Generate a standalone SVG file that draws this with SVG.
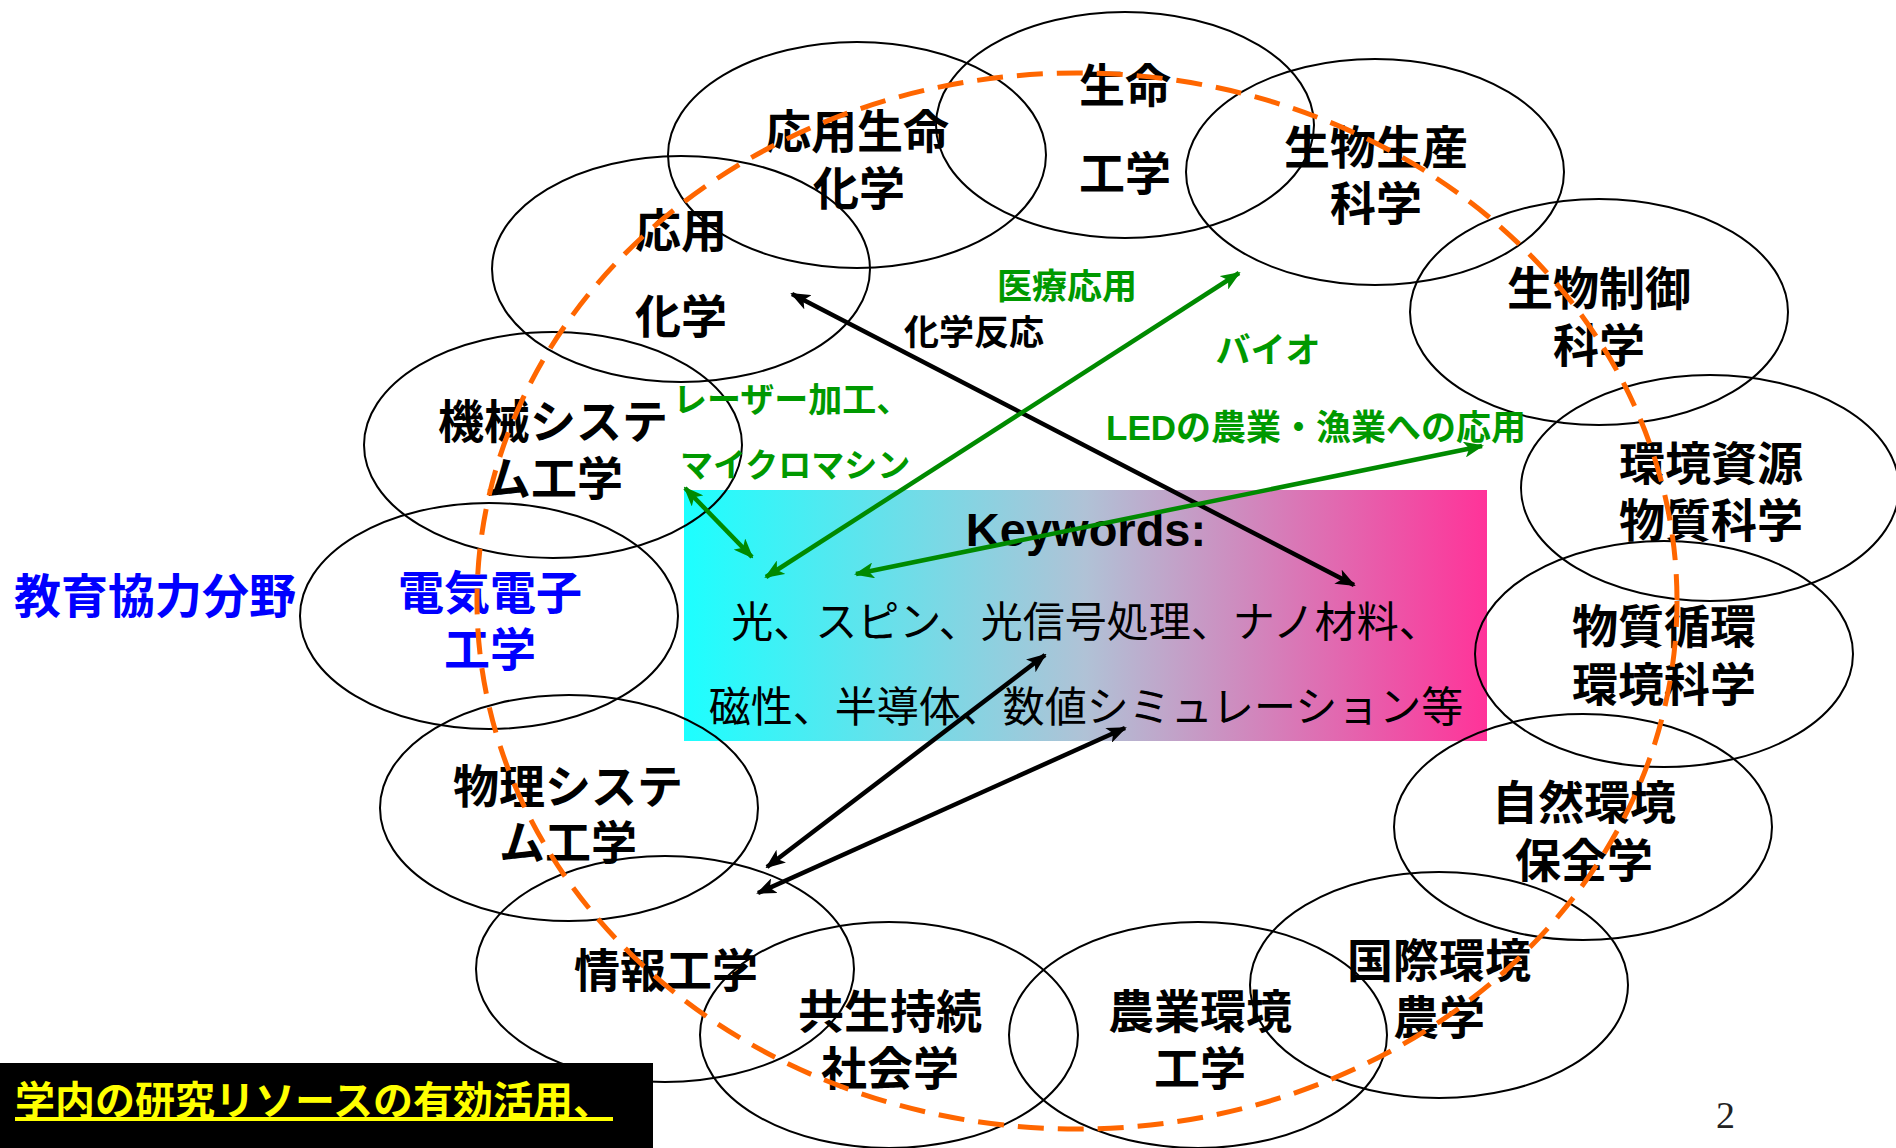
<svg xmlns="http://www.w3.org/2000/svg" width="1896" height="1148" viewBox="0 0 1896 1148">
<defs>
<linearGradient id="kwgrad" x1="0" y1="0" x2="1" y2="0">
<stop offset="0" stop-color="#1CFFFF"/>
<stop offset="0.5" stop-color="#B0C2D6"/>
<stop offset="1" stop-color="#FF3399"/>
</linearGradient>
<marker id="ahB" viewBox="0 0 20 16" refX="18" refY="8" markerWidth="20" markerHeight="16" markerUnits="userSpaceOnUse" orient="auto-start-reverse"><path d="M0,0 L20,8 L0,16 L5,8 z" fill="#000"/></marker>
<marker id="ahG" viewBox="0 0 20 16" refX="18" refY="8" markerWidth="20" markerHeight="16" markerUnits="userSpaceOnUse" orient="auto-start-reverse"><path d="M0,0 L20,8 L0,16 L5,8 z" fill="#008A00"/></marker>
<style>
.node{fill:none;stroke:#000;stroke-width:2}
.lbl{font-family:"Noto Sans CJK JP","Noto Sans CJK SC",sans-serif;font-weight:bold;font-size:46px;fill:#000;text-anchor:middle}
.blue{fill:#0000FF}
.kw{font-family:"Noto Sans CJK JP","Noto Sans CJK SC",sans-serif;font-size:42px;fill:#000;text-anchor:middle}
.kwt{font-family:"Liberation Sans","Noto Sans CJK JP",sans-serif;font-weight:bold;font-size:47px;fill:#000;text-anchor:middle}
.gl{font-family:"Liberation Sans","Noto Sans CJK JP",sans-serif;font-weight:bold;font-size:35px;fill:#009900}
.bl{font-family:"Noto Sans CJK JP",sans-serif;font-weight:bold;font-size:35px;fill:#000}
.blk{stroke:#000;stroke-width:4.5;fill:none;marker-start:url(#ahB);marker-end:url(#ahB)}
.grn{stroke:#008A00;stroke-width:4.5;fill:none;marker-start:url(#ahG);marker-end:url(#ahG)}
</style>
</defs>
<rect width="1896" height="1148" fill="#fff"/>

<g id="keywords">
<rect x="684" y="490" width="803" height="251" fill="url(#kwgrad)"/>
<text class="kwt" x="1086" y="546">Keywords:</text>
<text class="kw" x="1086" y="637">光、スピン、光信号処理、ナノ材料、</text>
<text class="kw" x="1086" y="722">磁性、半導体、数値シミュレーション等</text>
</g>

<g id="node-oyoseimei"><ellipse class="node" cx="857" cy="155" rx="189" ry="113"/>
<text class="lbl" x="857" y="148">応用生命</text><text class="lbl" x="859" y="205">化学</text></g>
<g id="node-seimei"><ellipse class="node" cx="1125" cy="125" rx="189" ry="113"/>
<text class="lbl" x="1125" y="102">生命</text><text class="lbl" x="1125" y="190">工学</text></g>
<g id="node-seibutsuseisan"><ellipse class="node" cx="1375" cy="172" rx="189" ry="113"/>
<text class="lbl" x="1376" y="164">生物生産</text><text class="lbl" x="1376" y="220">科学</text></g>
<g id="node-oyokagaku"><ellipse class="node" cx="681" cy="269" rx="189" ry="113"/>
<text class="lbl" x="681" y="247">応用</text><text class="lbl" x="681" y="333">化学</text></g>
<g id="node-seibutsuseigyo"><ellipse class="node" cx="1599" cy="312" rx="189" ry="113"/>
<text class="lbl" x="1599" y="305">生物制御</text><text class="lbl" x="1599" y="362">科学</text></g>
<g id="node-kikai"><ellipse class="node" cx="553" cy="445" rx="189" ry="113"/>
<text class="lbl" x="553" y="438">機械システ</text><text class="lbl" x="554" y="495">ム工学</text></g>
<g id="node-kankyoshigen"><ellipse class="node" cx="1710" cy="488" rx="189" ry="113"/>
<text class="lbl" x="1711" y="480">環境資源</text><text class="lbl" x="1711" y="537">物質科学</text></g>
<g id="node-denki"><ellipse class="node" cx="489" cy="616" rx="189" ry="113"/>
<text class="lbl blue" x="490" y="609">電気電子</text><text class="lbl blue" x="490" y="666">工学</text></g>
<g id="node-busshitsu"><ellipse class="node" cx="1664" cy="654" rx="189" ry="113"/>
<text class="lbl" x="1664" y="643">物質循環</text><text class="lbl" x="1664" y="701">環境科学</text></g>
<g id="node-butsuri"><ellipse class="node" cx="569" cy="808" rx="189" ry="113"/>
<text class="lbl" x="568" y="803">物理システ</text><text class="lbl" x="568" y="859">ム工学</text></g>
<g id="node-shizen"><ellipse class="node" cx="1583" cy="827" rx="189" ry="113"/>
<text class="lbl" x="1584" y="819">自然環境</text><text class="lbl" x="1584" y="877">保全学</text></g>
<g id="node-joho"><ellipse class="node" cx="665" cy="969" rx="189" ry="113"/>
<text class="lbl" x="666" y="987">情報工学</text></g>
<g id="node-kokusai"><ellipse class="node" cx="1439" cy="985" rx="189" ry="113"/>
<text class="lbl" x="1439" y="977">国際環境</text><text class="lbl" x="1439" y="1034">農学</text></g>
<g id="node-kyosei"><ellipse class="node" cx="889" cy="1035" rx="189" ry="113"/>
<text class="lbl" x="890" y="1028">共生持続</text><text class="lbl" x="890" y="1085">社会学</text></g>
<g id="node-nogyo"><ellipse class="node" cx="1198" cy="1035" rx="189" ry="113"/>
<text class="lbl" x="1200" y="1028">農業環境</text><text class="lbl" x="1200" y="1085">工学</text></g>

<g id="boundary">
<ellipse cx="1077" cy="601" rx="600" ry="528" fill="none" stroke="#FF6600" stroke-width="5" stroke-dasharray="26 14"/>
</g>

<g id="labels">
<text class="lbl blue" x="155" y="613" style="font-size:47px">教育協力分野</text>
<text class="gl" x="1067" y="299" text-anchor="middle">医療応用</text>
<text class="bl" x="974" y="345" text-anchor="middle">化学反応</text>
<text class="gl" x="1268" y="363" text-anchor="middle">バイオ</text>
<text class="gl" x="1106" y="440">LEDの農業・漁業への応用</text>
<text class="gl" x="673" y="412" style="font-size:34px">レーザー加工、</text>
<text class="gl" x="680" y="477" style="font-size:33px">マイクロマシン</text>
</g>

<g id="connectors">
<line class="blk" x1="792" y1="294" x2="1354" y2="585"/>
<line class="blk" x1="1045" y1="655" x2="767" y2="867"/>
<line class="blk" x1="1125" y1="728" x2="758" y2="893"/>
<line class="grn" x1="766" y1="577" x2="1239" y2="273"/>
<line class="grn" x1="856" y1="574" x2="1482" y2="446"/>
<line class="grn" x1="685" y1="488" x2="752" y2="557"/>
</g>

<g id="footer">
<rect x="0" y="1063" width="653" height="85" fill="#000"/>
<text x="15" y="1115" style="font-family:'Noto Sans CJK JP',sans-serif;font-weight:bold;font-size:40px;fill:#FFFF00;text-decoration:underline">学内の研究リソースの有効活用、</text>
<text x="1716" y="1128" style="font-family:'Liberation Serif',serif;font-size:38px;fill:#222">2</text>
</g>
</svg>
